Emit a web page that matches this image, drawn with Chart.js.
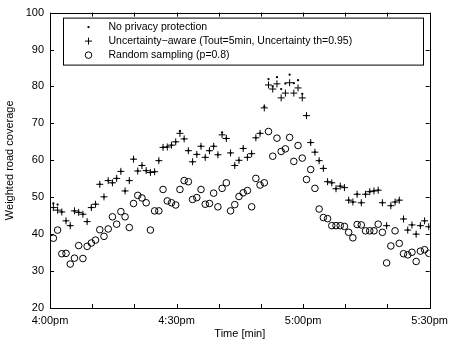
<!DOCTYPE html>
<html>
<head>
<meta charset="utf-8">
<script src="https://cdn.jsdelivr.net/npm/chart.js@4/dist/chart.umd.min.js"></script>
<style>
  html, body { margin: 0; padding: 0; background: #fff; }
  canvas { display: block; }
</style>
</head>
<body>
<canvas id="chart" width="454" height="344"></canvas>
<script>
// sampling instants, minutes after 4:00pm (one sample per minute)
const MINUTES = Array.from({ length: 90 }, (_, i) => i + 0.8);

const X_TICK_VALUES = [0, 30, 60, 90];
const X_TICK_LABELS = ['4:00pm', '4:30pm', '5:00pm', '5:30pm'];

const SERIES_LABELS = [
  'No privacy protection',
  'Uncertainty\u2212aware (Tout=5min, Uncertainty th=0.95)',
  'Random sampling (p=0.8)',
];

const NO_PRIVACY = [
  48.3, 48.0, 46.0, 43.6, 42.3, 46.3, 45.9, 45.4, 43.4, 47.2,
  48.1, 53.5, 50.1, 54.5, 53.9, 55.1, 57.0, 51.7, 54.5, 60.3,
  57.1, 58.6, 57.2, 56.7, 56.9, 59.9, 63.5, 63.6, 64.1, 65.0,
  67.9, 65.8, 62.6, 59.6, 61.6, 63.8, 60.8, 62.6, 63.8, 61.5,
  67.5, 65.9, 62.0, 58.6, 60.0, 63.2, 60.8, 61.8, 66.1, 67.3,
  74.5, 82.0, 80.0, 82.5, 79.3, 80.8, 83.2, 80.9, 81.7, 78.0,
  72.1, 64.8, 62.2, 59.9, 57.8, 54.2, 53.9, 52.3, 53.0, 52.6,
  49.2, 48.7, 50.8, 48.5, 50.8, 51.5, 51.7, 51.9, 48.5, 42.3,
  47.7, 48.7, 49.2, 44.1, 41.1, 42.5, 40.0, 42.3, 43.6, 42.0,
];

const UNCERTAINTY_AWARE = [
  47.2, 46.5, 46.0, 43.6, 42.3, 46.3, 45.9, 45.4, 43.4, 47.2,
  48.1, 53.5, 50.1, 54.5, 53.9, 55.1, 57.0, 51.7, 54.5, 60.3,
  57.1, 58.6, 57.2, 56.7, 56.9, 59.9, 63.5, 63.6, 64.1, 65.0,
  67.3, 65.8, 62.6, 59.6, 61.6, 63.8, 60.8, 62.6, 63.8, 61.5,
  66.9, 65.9, 62.0, 58.6, 60.0, 63.2, 60.8, 61.8, 66.1, 67.3,
  74.2, 80.4, 79.3, 80.7, 76.9, 78.2, 81.0, 78.2, 79.6, 76.9,
  72.1, 64.8, 62.2, 59.9, 57.8, 54.2, 53.9, 52.3, 53.0, 52.6,
  49.2, 48.7, 50.8, 48.5, 50.8, 51.5, 51.7, 51.9, 48.5, 42.3,
  47.7, 48.7, 49.2, 44.1, 41.1, 42.5, 40.0, 42.3, 43.6, 42.0,
];

const RANDOM_SAMPLING = [
  38.9, 41.1, 34.7, 34.8, 31.9, 33.5, 36.9, 33.4, 36.7, 37.6,
  38.4, 41.2, 39.4, 41.4, 44.7, 42.7, 46.1, 44.7, 41.8, 48.3,
  50.5, 49.8, 48.5, 41.1, 46.3, 46.3, 52.1, 49.0, 48.5, 47.9,
  52.1, 54.5, 54.2, 49.4, 49.9, 52.1, 48.1, 48.3, 51.1, 47.4,
  52.4, 53.9, 46.3, 48.0, 50.2, 51.2, 51.8, 47.4, 55.1, 53.3,
  53.9, 67.8, 61.1, 66.0, 62.4, 63.1, 66.2, 59.7, 64.0, 60.6,
  54.8, 57.5, 52.4, 46.8, 44.5, 44.2, 42.3, 42.3, 42.3, 42.1,
  40.5, 39.0, 42.6, 42.5, 40.9, 40.9, 40.9, 42.7, 40.5, 32.2,
  36.8, 40.9, 37.5, 34.7, 34.4, 35.1, 32.6, 35.4, 35.8, 34.8,
];

const FONT = 'Liberation Sans, Arial, Helvetica, sans-serif';
const toPoints = (vals) => MINUTES.map((m, i) => ({ x: m, y: vals[i] }));

/** MATLAB-style box: full frame plus inward ticks on all four sides. */
const framePlugin = {
  id: 'matlabFrame',
  afterDatasetsDraw: (chart) => {
    const { ctx, chartArea: a, scales } = chart;
    const len = 4;
    ctx.save();
    ctx.strokeStyle = '#000';
    ctx.lineWidth = 1;
    ctx.beginPath();
    scales.x.ticks.forEach((t) => {
      const px = Math.round(scales.x.getPixelForValue(t.value)) + 0.5;
      ctx.moveTo(px, a.bottom); ctx.lineTo(px, a.bottom - len);
      ctx.moveTo(px, a.top); ctx.lineTo(px, a.top + len);
    });
    scales.y.ticks.forEach((t) => {
      const py = Math.round(scales.y.getPixelForValue(t.value)) + 0.5;
      ctx.moveTo(a.left, py); ctx.lineTo(a.left + len, py);
      ctx.moveTo(a.right, py); ctx.lineTo(a.right - len, py);
    });
    ctx.stroke();
    ctx.strokeRect(Math.round(a.left) + 0.5, Math.round(a.top) + 0.5,
      Math.round(a.right - a.left), Math.round(a.bottom - a.top));
    ctx.restore();
  },
};

/** Boxed legend inside the axes, top-left, like MATLAB's. */
const legendBoxPlugin = {
  id: 'legendBox',
  afterDraw: (chart) => {
    const { ctx, chartArea: a } = chart;
    const box = { x: a.left + 13.5, y: a.top + 5.5, w: 360, h: 47 };
    ctx.save();
    ctx.fillStyle = '#fff';
    ctx.fillRect(box.x, box.y, box.w, box.h);
    ctx.strokeStyle = '#000';
    ctx.lineWidth = 1;
    ctx.strokeRect(box.x, box.y, box.w, box.h);
    ctx.font = `10.5px ${FONT}`;
    ctx.textBaseline = 'middle';
    chart.data.datasets.forEach((ds, i) => {
      const cy = box.y + 9 + i * 14;
      const cx = box.x + 25;
      ctx.strokeStyle = ds.borderColor;
      ctx.fillStyle = ds.backgroundColor;
      ctx.lineWidth = ds.borderWidth || 1;
      Chart.helpers.drawPoint(ctx, {
        pointStyle: ds.pointStyle, rotation: 0, radius: ds.pointRadius,
        borderWidth: ds.borderWidth,
      }, cx, cy);
      ctx.fillStyle = '#000';
      ctx.fillText(ds.label, box.x + 45, cy + 0.5);
    });
    ctx.restore();
  },
};

new Chart(document.getElementById('chart'), {
  type: 'scatter',
  data: {
    datasets: [
      {
        label: SERIES_LABELS[0], data: toPoints(NO_PRIVACY),
        pointStyle: 'circle', pointRadius: 1.15, borderWidth: 0,
        backgroundColor: '#000', borderColor: '#000',
      },
      {
        label: SERIES_LABELS[1], data: toPoints(UNCERTAINTY_AWARE),
        pointStyle: 'cross', pointRadius: 3.5, borderWidth: 1,
        backgroundColor: '#000', borderColor: '#000',
      },
      {
        label: SERIES_LABELS[2], data: toPoints(RANDOM_SAMPLING),
        pointStyle: 'circle', pointRadius: 3.3, borderWidth: 1,
        backgroundColor: 'rgba(0,0,0,0)', borderColor: '#000',
      },
    ],
  },
  plugins: [framePlugin, legendBoxPlugin],
  options: {
    responsive: false,
    animation: false,
    layout: { padding: { top: 10, right: 23, left: 0, bottom: 0 } },
    plugins: { legend: { display: false }, tooltip: { enabled: false } },
    scales: {
      x: {
        type: 'linear', min: 0, max: 90,
        afterFit: (s) => { s.height = 36; },
        afterBuildTicks: (s) => { s.ticks = [0, 10, 20, 30, 40, 50, 60, 70, 80, 90].map((v) => ({ value: v })); },
        grid: { display: false, drawTicks: false },
        border: { display: false },
        ticks: {
          autoSkip: false, maxRotation: 0, padding: 6, color: '#000',
          font: { family: FONT, size: 11 },
          callback: (v) => { const i = X_TICK_VALUES.indexOf(v); return i >= 0 ? X_TICK_LABELS[i] : ''; },
        },
        title: { display: true, text: 'Time [min]', color: '#000', font: { family: FONT, size: 11 }, padding: { top: 0, bottom: 3 } },
      },
      y: {
        min: 20, max: 100,
        afterFit: (s) => { s.width = 50; },
        grid: { display: false, drawTicks: false },
        border: { display: false },
        ticks: { stepSize: 10, padding: 6, color: '#000', font: { family: FONT, size: 11 } },
        title: { display: true, text: 'Weighted road coverage', color: '#000', font: { family: FONT, size: 11 }, padding: { top: 3, bottom: 0 } },
      },
    },
  },
});
</script>
</body>
</html>
